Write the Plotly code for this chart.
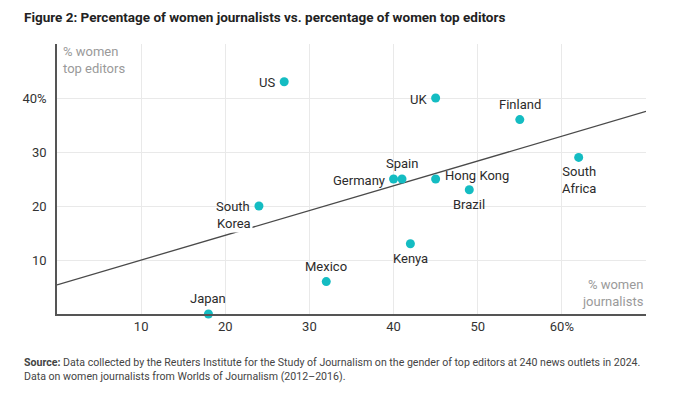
import numpy as np
import plotly.graph_objects as go

countries = ["US", "UK", "Finland", "South Africa", "Spain", "Germany", "Hong Kong",
             "Brazil", "South Korea", "Kenya", "Mexico", "Japan"]
women_journalists = [27, 45, 55, 62, 41, 40, 45, 49, 24, 42, 32, 18]
women_top_editors = [43, 40, 36, 29, 25, 25, 25, 23, 20, 13, 6, 0]
label_text = {"South Africa": "South<br>Africa"}

x_tickvals = [10, 20, 30, 40, 50, 60]
x_ticktext = ["10", "20", "30", "40", "50", "60%"]
y_tickvals = [10, 20, 30, 40]
y_ticktext = ["10", "20", "30", "40%"]

# label placement styles
placement = {
    "US": "left", "UK": "left", "Finland": "top", "South Africa": "bottom",
    "Spain": "top", "Germany": "left", "Hong Kong": "right", "Brazil": "bottom",
    "South Korea": "korea", "Kenya": "bottom", "Mexico": "top", "Japan": "top",
}

FONT = "Roboto, Arial, sans-serif"
TEAL = "#14bcc2"
LBL = dict(family=FONT, size=13, color="#2b2b2b")

slope, intercept = np.polyfit(women_journalists, women_top_editors, 1)
tx = np.array([0, 70])
ty = slope * tx + intercept

fig = go.Figure()
fig.add_trace(go.Scatter(x=tx, y=ty, mode="lines",
                         line=dict(color="#4a4a4a", width=1.3),
                         hoverinfo="skip", showlegend=False))
fig.add_trace(go.Scatter(x=women_journalists, y=women_top_editors, mode="markers",
                         marker=dict(color=TEAL, size=9),
                         text=countries, cliponaxis=False, showlegend=False))

annotations = []
for c, x, y in zip(countries, women_journalists, women_top_editors):
    p = placement[c]
    t = label_text.get(c, c)
    a = dict(x=x, y=y, xref="x", yref="y", text=t, showarrow=False, font=LBL)
    if p == "left":
        a.update(xanchor="right", yanchor="middle", xshift=-7, yshift=-1)
    elif p == "right":
        a.update(xanchor="left", yanchor="middle", xshift=7, yshift=4)
    elif p == "top":
        a.update(xanchor="center", yanchor="bottom", yshift=6)
    elif p == "bottom":
        a.update(xanchor="center", yanchor="top", yshift=-5, align="center")
    elif p == "korea":
        words = c.split(" ")
        annotations.append(dict(x=x, y=y, xref="x", yref="y", text=words[1], showarrow=False,
                                xanchor="right", yanchor="top", xshift=-6, yshift=-8,
                                font=LBL, bgcolor="white", borderpad=1))
        a.update(text=words[0], xanchor="right", yanchor="middle", xshift=-7, yshift=0)
    annotations.append(a)

# axis titles
annotations.append(dict(x=0, y=1, xref="paper", yref="paper",
                        text="% women<br>top editors", showarrow=False,
                        xanchor="left", yanchor="top", align="left", xshift=4, yshift=2,
                        font=dict(family=FONT, size=13, color="#9a9a9a")))
annotations.append(dict(x=1, y=0, xref="paper", yref="paper",
                        text="% women<br>journalists", showarrow=False,
                        xanchor="right", yanchor="bottom", align="right", xshift=0, yshift=3,
                        font=dict(family=FONT, size=13, color="#9a9a9a")))

# page offset (body margin of 8px)
OFF = 8
W, H = 680 - OFF, 394 - OFF
L, T = 57 - OFF, 44 - OFF
R = W - (646 - OFF)
B = H - (314 - OFF)
pw, ph = W - L - R, H - T - B

def px(xp):
    return (xp - OFF - L) / pw

def py(yp):
    return (H - B - (yp - OFF)) / ph

annotations.append(dict(x=px(22), y=py(17), xref="paper", yref="paper",
                        text="<b>Figure 2: Percentage of women journalists vs. percentage of women top editors</b>",
                        showarrow=False, xanchor="left", yanchor="middle",
                        font=dict(family=FONT, size=13.5, color="#222")))
annotations.append(dict(x=px(22), y=py(369), xref="paper", yref="paper",
                        text="<b>Source:</b> Data collected by the Reuters Institute for the Study of Journalism on the gender of top editors at 240 news outlets in 2024.<br>Data on women journalists from Worlds of Journalism (2012–2016).",
                        showarrow=False, xanchor="left", yanchor="middle", align="left",
                        font=dict(family=FONT, size=10.6, color="#444")))

fig.update_layout(
    width=W, height=H,
    margin=dict(l=L, r=R, t=T, b=B),
    paper_bgcolor="white", plot_bgcolor="white",
    annotations=annotations,
    xaxis=dict(range=[0, 70], tickvals=x_tickvals, ticktext=x_ticktext,
               showgrid=True, gridcolor="#e9e9e9", gridwidth=1,
               zeroline=False, showline=True, linecolor="#555", linewidth=1.5,
               ticks="", tickfont=dict(family=FONT, size=13, color="#333")),
    yaxis=dict(range=[0, 50], tickvals=y_tickvals, ticktext=y_ticktext,
               showgrid=True, gridcolor="#e9e9e9", gridwidth=1,
               zeroline=False, showline=True, linecolor="#555", linewidth=1.5,
               ticks="", ticklabelstandoff=6, tickfont=dict(family=FONT, size=13, color="#333")),
    font=dict(family=FONT),
)

fig.write_html("out.html")
